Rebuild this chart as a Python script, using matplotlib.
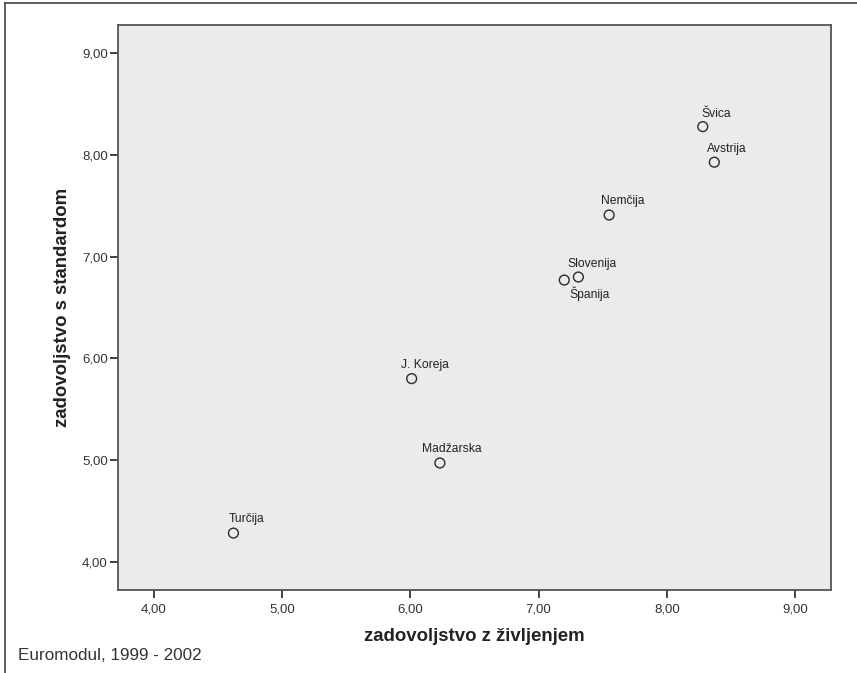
import matplotlib
matplotlib.use("Agg")
import matplotlib.pyplot as plt
from matplotlib.lines import Line2D

# data
COUNTRIES = ["Švica", "Avstrija", "Nemčija", "Slovenija", "Španija",
             "J. Koreja", "Madžarska", "Turčija"]
LIFE = [8.28, 8.37, 7.55, 7.31, 7.20, 6.01, 6.23, 4.62]      # zadovoljstvo z življenjem
STANDARD = [8.28, 7.93, 7.41, 6.80, 6.77, 5.80, 4.97, 4.28]  # zadovoljstvo s standardom
TICKS = [4, 5, 6, 7, 8, 9]
TICK_LABELS = ["4,00", "5,00", "6,00", "7,00", "8,00", "9,00"]

# label placement (pixel offsets from point)
OFFSETS = {"Švica": (-1, 10), "Avstrija": (-7, 10), "Nemčija": (-8, 11),
           "Slovenija": (-11, 10), "Španija": (5, -18), "J. Koreja": (-11, 11),
           "Madžarska": (-18, 11), "Turčija": (-5, 11)}

plt.rcParams["font.family"] = ["Liberation Sans", "DejaVu Sans"]

fig = plt.figure(figsize=(8.57, 6.73), dpi=100)
ax = fig.add_axes([118/857, 83/673, 713/857, 565/673])
ax.set_facecolor("#ebebed")

ax.scatter(LIFE, STANDARD, s=50, facecolors="none", edgecolors="#2b2b2b",
           linewidths=1.0, zorder=3)
for name, x, y in zip(COUNTRIES, LIFE, STANDARD):
    dx, dy = OFFSETS[name]
    ax.annotate(name, (x, y), xytext=(dx, dy), textcoords="offset pixels",
                ha="left", va="baseline", fontsize=8.7, color="#222222")

ax.set_xlim(3.72, 9.28)
ax.set_ylim(3.72, 9.28)
ax.set_xticks(TICKS)
ax.set_xticklabels(TICK_LABELS, fontsize=9.5, color="#333333")
ax.set_yticks(TICKS)
ax.set_yticklabels(TICK_LABELS, fontsize=9.5, color="#333333")
ax.tick_params(direction="out", length=5.8, width=1.3, color="#333333", pad=1.5)
ax.tick_params(axis="x", pad=4)
for sp in ax.spines.values():
    sp.set_color("#555555")
    sp.set_linewidth(1.3)

ax.set_xlabel("zadovoljstvo z življenjem", fontsize=13.4, fontweight="bold",
              color="#222222", labelpad=9)
ax.set_ylabel("zadovoljstvo s standardom", fontsize=13.4, fontweight="bold",
              color="#222222", labelpad=8)

fig.text(18/857, 1 - 660/673, "Euromodul, 1999 - 2002",
         fontsize=12.3, color="#333333", ha="left", va="baseline")

# outer frame (top and left visible in the reference)
fig.add_artist(Line2D([5/857, 1], [1 - 3/673, 1 - 3/673], transform=fig.transFigure,
                      color="#444444", lw=1.2))
fig.add_artist(Line2D([5/857, 5/857], [0, 1 - 3/673], transform=fig.transFigure,
                      color="#444444", lw=1.2))

fig.savefig("out.png", dpi=100)
